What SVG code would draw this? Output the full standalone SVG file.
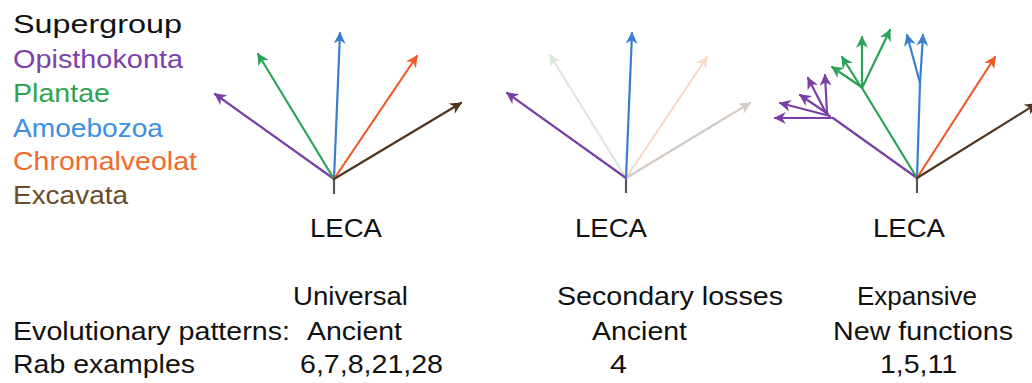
<svg xmlns="http://www.w3.org/2000/svg" width="1032" height="383" viewBox="0 0 1032 383">
<style>
text{font-family:"Liberation Sans",Arial,sans-serif;font-size:26px;fill:#111}
.br{fill:none;stroke-width:2.2;stroke-linecap:round}
.pu{stroke:#7a3ea6}
.gr{stroke:#2ba356}
.bl{stroke:#3a7fcf}
.or{stroke:#f05a28}
.bn{stroke:#4e3522}
.fg{stroke:#d9e8dc}
.fo{stroke:#fbd9c8}
.fb{stroke:#d3cbc4}
.stem{stroke:#555;stroke-width:2.2}
</style>
<defs>
<marker id="mpu" viewBox="0 0 10 10" refX="9" refY="5" markerUnits="userSpaceOnUse" markerWidth="13" markerHeight="12" orient="auto"><path d="M0,0L10,5L0,10L3,5z" fill="#7a3ea6"/></marker>
<marker id="mgr" viewBox="0 0 10 10" refX="9" refY="5" markerUnits="userSpaceOnUse" markerWidth="13" markerHeight="12" orient="auto"><path d="M0,0L10,5L0,10L3,5z" fill="#2ba356"/></marker>
<marker id="mbl" viewBox="0 0 10 10" refX="9" refY="5" markerUnits="userSpaceOnUse" markerWidth="13" markerHeight="12" orient="auto"><path d="M0,0L10,5L0,10L3,5z" fill="#3a7fcf"/></marker>
<marker id="mor" viewBox="0 0 10 10" refX="9" refY="5" markerUnits="userSpaceOnUse" markerWidth="13" markerHeight="12" orient="auto"><path d="M0,0L10,5L0,10L3,5z" fill="#f05a28"/></marker>
<marker id="mbn" viewBox="0 0 10 10" refX="9" refY="5" markerUnits="userSpaceOnUse" markerWidth="13" markerHeight="12" orient="auto"><path d="M0,0L10,5L0,10L3,5z" fill="#4e3522"/></marker>
<marker id="mfg" viewBox="0 0 10 10" refX="9" refY="5" markerUnits="userSpaceOnUse" markerWidth="13" markerHeight="12" orient="auto"><path d="M0,0L10,5L0,10L3,5z" fill="#d9e8dc"/></marker>
<marker id="mfo" viewBox="0 0 10 10" refX="9" refY="5" markerUnits="userSpaceOnUse" markerWidth="13" markerHeight="12" orient="auto"><path d="M0,0L10,5L0,10L3,5z" fill="#fbd9c8"/></marker>
<marker id="mfb" viewBox="0 0 10 10" refX="9" refY="5" markerUnits="userSpaceOnUse" markerWidth="13" markerHeight="12" orient="auto"><path d="M0,0L10,5L0,10L3,5z" fill="#d3cbc4"/></marker>
</defs>
<rect width="1032" height="383" fill="#fff"/>

<g id="legend">
<text x="13" y="33" textLength="169" lengthAdjust="spacingAndGlyphs">Supergroup</text>
<text x="13" y="68" textLength="170" lengthAdjust="spacingAndGlyphs" style="fill:#7d3fab">Opisthokonta</text>
<text x="13" y="102" textLength="97" lengthAdjust="spacingAndGlyphs" style="fill:#2ea44f">Plantae</text>
<text x="13" y="137" textLength="150" lengthAdjust="spacingAndGlyphs" style="fill:#3d8fe6">Amoebozoa</text>
<text x="13" y="170" textLength="184" lengthAdjust="spacingAndGlyphs" style="fill:#f06a2a">Chromalveolat</text>
<text x="13" y="204" textLength="115" lengthAdjust="spacingAndGlyphs" style="fill:#6b4c2a">Excavata</text>
</g>

<g id="connectors">
<!-- tree 1 -->
<line class="stem" x1="334" y1="178" x2="334" y2="194"/>
<line class="br pu" x1="334" y1="179" x2="215" y2="94" marker-end="url(#mpu)"/>
<line class="br gr" x1="334" y1="179" x2="258" y2="54" marker-end="url(#mgr)"/>
<line class="br bl" x1="334" y1="179" x2="340" y2="33" marker-end="url(#mbl)"/>
<line class="br or" x1="334" y1="179" x2="417" y2="56" marker-end="url(#mor)"/>
<line class="br bn" x1="334" y1="179" x2="461" y2="103" marker-end="url(#mbn)"/>
<!-- tree 2 -->
<line class="stem" x1="626" y1="178" x2="626" y2="193"/>
<line class="br fg" x1="626" y1="178" x2="550" y2="55" marker-end="url(#mfg)"/>
<line class="br fo" x1="626" y1="178" x2="707" y2="57" marker-end="url(#mfo)"/>
<line class="br fb" x1="626" y1="178" x2="750" y2="103" marker-end="url(#mfb)"/>
<line class="br pu" x1="626" y1="178" x2="507" y2="93" marker-end="url(#mpu)"/>
<line class="br bl" x1="626" y1="178" x2="632" y2="33" marker-end="url(#mbl)"/>
<!-- tree 3 -->
<line class="stem" x1="917" y1="178" x2="917" y2="193"/>
<line class="br pu" x1="917" y1="178" x2="833" y2="118"/>
<line class="br pu" x1="833" y1="118" x2="775" y2="118" marker-end="url(#mpu)"/>
<line class="br pu" x1="830" y1="116" x2="780" y2="103" marker-end="url(#mpu)"/>
<line class="br pu" x1="828" y1="114" x2="800" y2="95" marker-end="url(#mpu)"/>
<line class="br pu" x1="826" y1="113" x2="808" y2="78" marker-end="url(#mpu)"/>
<line class="br pu" x1="827" y1="113" x2="825" y2="75" marker-end="url(#mpu)"/>
<line class="br gr" x1="917" y1="178" x2="862" y2="88"/>
<line class="br gr" x1="860" y1="86" x2="832" y2="67" marker-end="url(#mgr)"/>
<line class="br gr" x1="861" y1="87" x2="842" y2="57" marker-end="url(#mgr)"/>
<line class="br gr" x1="862" y1="88" x2="862" y2="37" marker-end="url(#mgr)"/>
<line class="br gr" x1="862" y1="88" x2="890" y2="30" marker-end="url(#mgr)"/>
<line class="br bl" x1="917" y1="178" x2="920" y2="83"/>
<line class="br bl" x1="920" y1="83" x2="907" y2="35" marker-end="url(#mbl)"/>
<line class="br bl" x1="920" y1="83" x2="923" y2="35" marker-end="url(#mbl)"/>
<line class="br or" x1="917" y1="178" x2="995" y2="57" marker-end="url(#mor)"/>
<line class="br bn" x1="917" y1="178" x2="1036" y2="104" marker-end="url(#mbn)"/>
</g>

<g id="leca1"><text x="310" y="237" textLength="72" lengthAdjust="spacingAndGlyphs">LECA</text></g>
<g id="leca2"><text x="575" y="237" textLength="72" lengthAdjust="spacingAndGlyphs">LECA</text></g>
<g id="leca3"><text x="873" y="237" textLength="72" lengthAdjust="spacingAndGlyphs">LECA</text></g>

<g id="table">
<text x="293" y="305" textLength="115" lengthAdjust="spacingAndGlyphs">Universal</text>
<text x="557" y="305" textLength="226" lengthAdjust="spacingAndGlyphs">Secondary losses</text>
<text x="857" y="305" textLength="120" lengthAdjust="spacingAndGlyphs">Expansive</text>
<text x="13" y="340" textLength="277" lengthAdjust="spacingAndGlyphs">Evolutionary patterns:</text>
<text x="307" y="340" textLength="95" lengthAdjust="spacingAndGlyphs">Ancient</text>
<text x="592" y="340" textLength="95" lengthAdjust="spacingAndGlyphs">Ancient</text>
<text x="833" y="340" textLength="180" lengthAdjust="spacingAndGlyphs">New functions</text>
<text x="13" y="373" textLength="182" lengthAdjust="spacingAndGlyphs">Rab examples</text>
<text x="300" y="373" textLength="143" lengthAdjust="spacingAndGlyphs">6,7,8,21,28</text>
<text x="610" y="373" textLength="17" lengthAdjust="spacingAndGlyphs">4</text>
<text x="880" y="373" textLength="77" lengthAdjust="spacingAndGlyphs">1,5,11</text>
</g>
</svg>
